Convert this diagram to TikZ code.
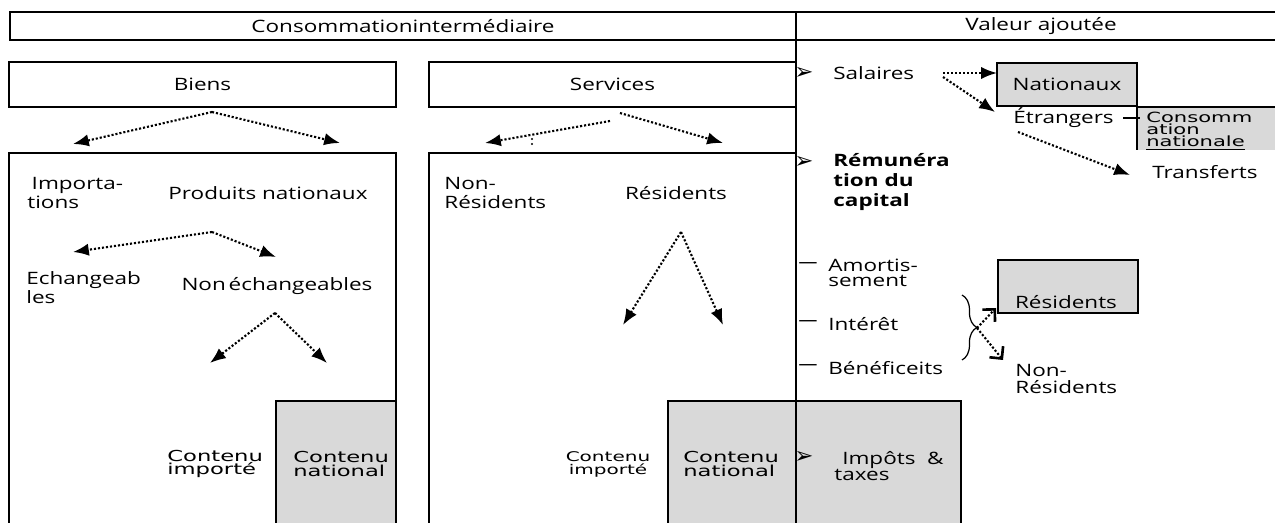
\documentclass[tikz,border=0pt]{standalone}
\usepackage{fontspec}
\setmainfont[FakeStretch=1.32]{Open Sans}
\newfontfamily\symbfont{DejaVu Sans}
\newfontfamily\smallfont[FakeStretch=1.5]{DejaVu Sans}
\usetikzlibrary{arrows.meta,decorations.pathreplacing}
\newcommand{\pxu}{0.02cm}

\tikzset{
  frame/.style={line width=1.4pt},
  txt/.style={inner sep=0pt, align=left, font=\fontsize{9.7}{11.3}\selectfont},
  box/.style={draw, line width=1.4pt, inner sep=0pt, font=\fontsize{9.7}{11.3}\selectfont},
  graybox/.style={box, fill=black!15},
  small/.style={inner sep=0pt, align=left, font=\smallfont\fontsize{8.6}{7.9}\selectfont},
  bul/.style={inner sep=0pt, font=\symbfont\fontsize{13}{10}\selectfont},
  dashmark/.style={inner sep=0pt, font=\symbfont\fontsize{11}{8}\selectfont},
  flow/.style={line width=1.2pt, dash pattern=on 1.2pt off 1.1pt, -{Latex[length=9pt,width=7pt]}},
  barb/.style={line width=1.2pt, dash pattern=on 1.2pt off 1.1pt, -{Straight Barb[length=5pt,width=10pt,line width=1.5pt]}}
}

\begin{document}
\begin{tikzpicture}[x=0.02cm, y=-0.02cm]
\useasboundingbox (0,0) rectangle (1275,523);

% en-tete
\draw[frame] (10,12) rectangle (1290,40);
\draw[frame] (796,12) -- (796,540);
\node[txt] (ci) at (403,26) {Consommationintermédiaire};
\node[txt] (va) at (1041,26) {Valeur ajoutée};

% biens et services
\node[box, minimum width=387*\pxu, minimum height=45*\pxu] (biens) at (202.5,84.5) {Biens};
\node[box, minimum width=367*\pxu, minimum height=45*\pxu] (serv) at (612.5,84.5) {Services};

\coordinate (b0) at (212,112);
\coordinate (b1) at (73,144);
\coordinate (b2) at (340,143);
\draw[flow] (b0) -- (b1);
\draw[flow] (b0) -- (b2);

\coordinate (s0) at (610,121);
\coordinate (s1) at (485,143);
\coordinate (s2) at (620,113);
\coordinate (s3) at (723,143);
\draw[flow] (s0) -- (s1);
\draw[flow] (s2) -- (s3);
\fill (532,139) circle (0.6pt) (532,144) circle (0.6pt);

\draw[frame] (9,153) rectangle (396,540);
\draw[frame] (429,153) rectangle (796,540);
\draw[frame, fill=black!15] (276,401) rectangle (396,540);
\draw[frame, fill=black!15] (668,401) rectangle (961,540);
\draw[frame] (796,401) -- (796,540);

% colonne biens
\node[txt, anchor=west] (imp) at (27,193) {\hspace*{2.5pt}Importa-\\tions};
\node[txt] (prod) at (268,193) {Produits nationaux};
\coordinate (p0) at (212,232);
\coordinate (p1) at (73,252);
\coordinate (p2) at (276,257);
\draw[flow] (p0) -- (p1);
\draw[flow] (p0) -- (p2);

\node[txt, anchor=west, font=\fontsize{9.7}{7.4}\selectfont] (ech) at (26,288) {Echangeab\\les};
\node[txt] (nonech) at (277,286) {Non\,échangeables};
\coordinate (n0) at (275,313);
\coordinate (n1) at (210,363);
\coordinate (n2) at (327,363);
\draw[flow] (n0) -- (n1);
\draw[flow] (n0) -- (n2);

\node[small, anchor=west] (cimp) at (167,464) {Contenu\\importé};
\node[small, anchor=west] (cnat) at (293,464) {Contenu\\national};

% colonne services
\node[txt, anchor=west] (nres) at (444,193) {Non-\\Résidents};
\node[txt] (res) at (676,193) {Résidents};
\coordinate (r0) at (681,232);
\coordinate (r1) at (623,325);
\coordinate (r2) at (723,325);
\draw[flow] (r0) -- (r1);
\draw[flow] (r0) -- (r2);

\node[small, align=center, font=\smallfont\fontsize{7.6}{7.4}\selectfont] (cimp2) at (608,464) {Contenu\\importé};
\node[small, anchor=west] (cnat2) at (683,464) {Contenu\\national};

% valeur ajoutee
\node[bul] (bsal) at (804,73) {➢};
\node[txt, anchor=west] (sal) at (833,73) {Salaires};
\node[graybox, minimum width=140*\pxu, minimum height=43*\pxu] (nat) at (1067,84.5) {Nationaux};
\node[txt, anchor=west] (etr) at (1013,118) {Étrangers};

\fill[black!15] (1137,107) rectangle (1290,150);
\draw[frame] (1137,150) -- (1137,107) -- (1290,107);
\node[small, anchor=west, font=\smallfont\fontsize{8}{7}\selectfont] (cons) at (1146,131) {Consomm\\ation\\\underline{nationale}};
\coordinate (ce) at (1140,118);
\draw[line width=0.8pt] ([xshift=9*\pxu]etr.east) -- (ce);

\coordinate (a0) at (943,73);
\coordinate (a1) at (997,73);
\coordinate (a2) at (943,77);
\coordinate (a3) at (995,112);
\draw[flow] (a0) -- (a1);
\draw[flow] (a2) -- (a3);

\coordinate (e0) at (1018,132);
\coordinate (e1) at (1130,175);
\draw[flow] (e0) -- (e1);
\node[txt] (trans) at (1205,172) {Transferts};

\node[bul] (brem) at (804,162) {➢};
\node[txt, anchor=west, font=\bfseries\fontsize{9.7}{11.3}\selectfont] (rem) at (833,182) {Rémunéra\\tion du\\capital};

\node[dashmark] (d1) at (808,266) {—};
\node[txt, anchor=west, font=\fontsize{9.7}{8.6}\selectfont] (amo) at (828,273) {Amortis-\\sement};
\node[dashmark] (d2) at (808,324) {—};
\node[txt, anchor=west] (int) at (828,324) {Intérêt};
\node[dashmark] (d3) at (808,368) {—};
\node[txt, anchor=west] (ben) at (828,368) {Bénéficeits};

\draw[decorate, decoration={brace, amplitude=8.5pt}, line width=0.7pt] (962,295) -- (962,360);
\coordinate (bt) at (977,328);
\node[graybox, minimum width=140*\pxu, minimum height=53*\pxu] (resb) at (1068,286.5) {};
\node[txt] (rest) at (1066,302) {Résidents};
\coordinate (bt1) at (996,308);
\coordinate (bt2) at (1003,360);
\draw[barb] (bt) -- (bt1);
\draw[barb] (bt) -- (bt2);
\node[txt, anchor=west, font=\fontsize{9.7}{10.2}\selectfont] (nres2) at (1015,379) {Non-\\Résidents};

\node[bul] (bimp) at (804,457) {➢};
\node[txt, anchor=west, font=\fontsize{9.7}{9.6}\selectfont] (impt) at (834,466) {\hspace*{4.5pt}Impôts\ \ \&\\taxes};
\end{tikzpicture}
\end{document}
